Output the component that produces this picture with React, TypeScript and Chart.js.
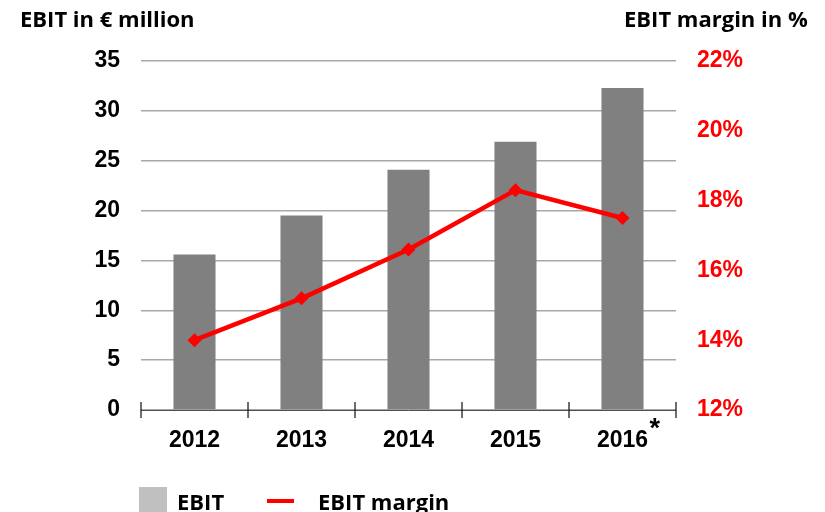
import React, { useEffect, useRef } from "react";
import { Chart, registerables } from "chart.js";

Chart.register(...registerables);

const years = ["2012", "2013", "2014", "2015", "2016"];
const ebit = [15.6, 19.5, 24.1, 26.9, 32.3];
const ebitMargin = [14.0, 15.2, 16.6, 18.3, 17.5];
const leftTitle = "EBIT in € million";
const rightTitle = "EBIT margin in %";
const legendEbit = "EBIT";
const legendMargin = "EBIT margin";
const footnoteMark = "*";

const numFont = '"Liberation Sans", Arial, sans-serif';
const textFont = '"Open Sans", sans-serif';

const decorPlugin = {
  id: "decor",
  afterDraw(chart: any) {
    const ctx = chart.ctx;
    const x = chart.scales.x;
    const area = chart.chartArea;
    ctx.save();
    // x axis line
    ctx.strokeStyle = "#505050";
    ctx.lineWidth = 1;
    ctx.beginPath();
    ctx.moveTo(area.left, Math.round(area.bottom) + 0.5);
    ctx.lineTo(area.right, Math.round(area.bottom) + 0.5);
    ctx.stroke();
    // boundary ticks
    ctx.strokeStyle = "#202020";
    ctx.lineWidth = 1.3;
    const n = years.length;
    for (let i = 0; i <= n; i++) {
      const px = x.left + (i * (x.right - x.left)) / n;
      ctx.beginPath();
      ctx.moveTo(px, area.bottom - 8);
      ctx.lineTo(px, area.bottom + 8);
      ctx.stroke();
    }
    // asterisk
    ctx.fillStyle = "#000";
    ctx.font = `bold 27px ${numFont}`;
    ctx.textBaseline = "alphabetic";
    ctx.textAlign = "left";
    const lastPx = x.getPixelForValue(n - 1);
    ctx.fillText(footnoteMark, lastPx + 27, 437);
    // titles
    ctx.font = `bold 22px ${textFont}`;
    ctx.fillText(leftTitle, 20, 27);
    ctx.fillText(rightTitle, 624, 27);
    // legend
    ctx.fillStyle = "#c0c0c0";
    ctx.fillRect(139, 487, 28, 30);
    ctx.fillStyle = "#000";
    ctx.fillText(legendEbit, 177, 510);
    ctx.fillStyle = "#ff0000";
    ctx.fillRect(267, 499, 27, 4);
    ctx.fillStyle = "#000";
    ctx.fillText(legendMargin, 318, 510);
    ctx.restore();
  },
};

export default function App() {
  const ref = useRef<HTMLCanvasElement>(null);
  useEffect(() => {
    if (!ref.current) return;
    const chart = new Chart(ref.current, {
      type: "bar",
      data: {
        labels: years,
        datasets: [
          {
            type: "line",
            label: legendMargin,
            data: ebitMargin,
            yAxisID: "y1",
            borderColor: "#ff0000",
            backgroundColor: "#ff0000",
            borderWidth: 4.5,
            pointStyle: "rectRot",
            pointRadius: 7,
            pointBorderWidth: 0,
            pointBackgroundColor: "#ff0000",
            tension: 0,
            order: 0,
          } as any,
          {
            type: "bar",
            label: legendEbit,
            data: ebit,
            yAxisID: "y",
            backgroundColor: "#808080",
            categoryPercentage: 1,
            barPercentage: 0.393,
            order: 1,
          },
        ],
      },
      options: {
        responsive: false,
        animation: false,
        layout: { padding: { top: 61, bottom: 0, left: 0, right: 0 } },
        plugins: { legend: { display: false }, tooltip: { enabled: false } },
        scales: {
          x: {
            grid: { display: false },
            border: { display: false },
            ticks: {
              color: "#000",
              padding: 9,
              font: { family: numFont, size: 23, weight: "bold" },
            },
            afterFit(s: any) {
              s.height = 102;
            },
          },
          y: {
            position: "left",
            min: 0,
            max: 35,
            border: { display: false },
            grid: { color: "#a8a8a8", lineWidth: 1.5, drawTicks: false },
            ticks: {
              stepSize: 5,
              color: "#000",
              padding: 21,
              font: { family: numFont, size: 23, weight: "bold" },
            },
            afterFit(s: any) {
              s.width = 141;
            },
          },
          y1: {
            position: "right",
            min: 12,
            max: 22,
            border: { display: false },
            grid: { display: false, drawTicks: false },
            ticks: {
              stepSize: 2,
              color: "#ff0000",
              padding: 21,
              font: { family: numFont, size: 23, weight: "bold" },
              callback: (v: any) => `${v}%`,
            },
            afterFit(s: any) {
              s.width = 149;
            },
          },
        },
      } as any,
      plugins: [decorPlugin],
    });
    return () => chart.destroy();
  }, []);
  return (
    <div style={{ position: "absolute", left: 0, top: 0, width: 825, height: 512, background: "#fff" }}>
      <canvas ref={ref} width={825} height={512} style={{ display: "block" }} />
    </div>
  );
}
